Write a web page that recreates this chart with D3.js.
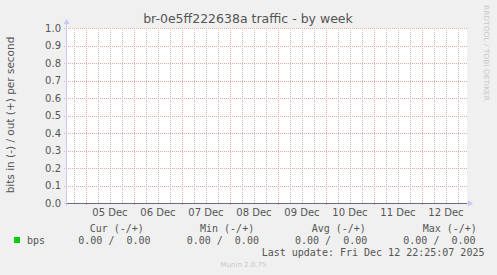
<!DOCTYPE html>
<html>
<head>
<meta charset="utf-8">
<script src="https://cdn.jsdelivr.net/npm/d3@7"></script>
<style>
  body { margin: 0; background: #f0f0f0; }
  svg { display: block; }
</style>
</head>
<body>
<svg id="chart" width="497" height="275"></svg>
<script>
// values
const sampleTimes = ["2025-12-04T14:30:00Z", "2025-12-12T22:30:00Z"];
const bpsIn = [0, 0];
const bpsOut = [0, 0];
const yTicks = [0, 0.1, 0.2, 0.3, 0.4, 0.5, 0.6, 0.7, 0.8, 0.9, 1.0];
const dayLabels = ["05 Dec", "06 Dec", "07 Dec", "08 Dec", "09 Dec", "10 Dec", "11 Dec", "12 Dec"];
const statNames = ["Cur (-/+)", "Min (-/+)", "Avg (-/+)", "Max (-/+)"];
const statIn = [0, 0, 0, 0];
const statOut = [0, 0, 0, 0];
const lastUpdate = "Last update: Fri Dec 12 22:25:07 2025";

const svg = d3.select("#chart");
const pLeft = 67, pRight = 467, pTop = 28, pBottom = 203;
const txt = "#555";

const times = sampleTimes.map(d => new Date(d));
const x = d3.scaleUtc().domain(d3.extent(times)).range([pLeft, pRight]);
const y = d3.scaleLinear().domain([0, 1]).range([pBottom, pTop]);

// plot background
svg.append("rect")
    .attr("x", pLeft).attr("y", pTop)
    .attr("width", pRight - pLeft).attr("height", pBottom - pTop)
    .attr("fill", "#fff");

// minor grid, every 6 hours
const minor = d3.utcHour.range(x.domain()[0], x.domain()[1])
    .filter(d => d.getUTCHours() % 6 === 0 && d.getUTCHours() !== 0);
svg.append("g").selectAll("line")
    .data(minor).enter().append("line")
    .attr("x1", d => Math.round(x(d)) + 0.5).attr("x2", d => Math.round(x(d)) + 0.5)
    .attr("y1", pTop).attr("y2", pBottom)
    .attr("stroke", "#bcbcbc").attr("stroke-dasharray", "1,1");

// major grid, midnight
const days = d3.utcDay.range(x.domain()[0], x.domain()[1]);
svg.append("g").selectAll("line")
    .data(days).enter().append("line")
    .attr("x1", d => Math.round(x(d)) + 0.5).attr("x2", d => Math.round(x(d)) + 0.5)
    .attr("y1", pTop).attr("y2", pBottom + 3)
    .attr("stroke", "#e8a8a8").attr("stroke-dasharray", "1,1");

svg.append("g").selectAll("line")
    .data(yTicks.filter(d => d > 0)).enter().append("line")
    .attr("x1", pLeft - 3).attr("x2", pRight)
    .attr("y1", d => Math.round(y(d)) + 0.5).attr("y2", d => Math.round(y(d)) + 0.5)
    .attr("stroke", "#e8a8a8").attr("stroke-dasharray", "1,1");

// y tick labels
svg.append("g").selectAll("text")
    .data(yTicks).enter().append("text")
    .attr("x", 61).attr("y", d => y(d) + 3.5)
    .attr("text-anchor", "end")
    .attr("font-family", "DejaVu Sans").attr("font-size", 10)
    .attr("fill", txt)
    .text(d => d.toFixed(1));

// day labels at noon
svg.append("g").selectAll("text")
    .data(days).enter().append("text")
    .attr("x", d => x(d3.utcHour.offset(d, 12)))
    .attr("y", 215.5)
    .attr("text-anchor", "middle")
    .attr("font-family", "DejaVu Sans").attr("font-size", 10)
    .attr("fill", txt)
    .text((d, i) => dayLabels[i]);

// axes with arrows
svg.append("line")
    .attr("x1", pLeft - 0.5).attr("x2", pLeft - 0.5).attr("y1", pBottom + 3).attr("y2", pTop - 5)
    .attr("stroke", "#c8c8f0");
svg.append("path")
    .attr("d", `M${pLeft - 3.5},${pTop - 4} L${pLeft - 0.5},${pTop - 9} L${pLeft + 2.5},${pTop - 4} Z`)
    .attr("fill", "#c8c8f0");
svg.append("line")
    .attr("x1", pLeft - 3).attr("x2", pRight + 3).attr("y1", pBottom + 0.5).attr("y2", pBottom + 0.5)
    .attr("stroke", "#c8c8f0");
svg.append("path")
    .attr("d", `M${pRight + 1},${pBottom - 2.5} L${pRight + 6},${pBottom + 0.5} L${pRight + 1},${pBottom + 3.5} Z`)
    .attr("fill", "#c8c8f0");

// data (in plotted negative, out positive, both zero)
const line = d3.line().x(d => x(d.t)).y(d => Math.round(y(d.v)) + 0.5);
[bpsIn.map((v, i) => ({t: times[i], v: -v})), bpsOut.map((v, i) => ({t: times[i], v: v}))]
  .forEach(s => {
    svg.append("path").datum(s)
        .attr("d", line)
        .attr("fill", "none")
        .attr("stroke", "#6a6a80").attr("stroke-width", 1);
  });

// title
svg.append("text")
    .attr("x", 248).attr("y", 22.5)
    .attr("text-anchor", "middle")
    .attr("font-family", "DejaVu Sans").attr("font-size", 12.5)
    .attr("fill", txt)
    .text("br-0e5ff222638a traffic - by week");

// y axis title
svg.append("text")
    .attr("transform", "translate(14,115) rotate(-90)")
    .attr("text-anchor", "middle")
    .attr("font-family", "DejaVu Sans").attr("font-size", 10.5)
    .attr("fill", txt)
    .text("bits in (-) / out (+) per second");

// watermark
svg.append("text")
    .attr("transform", "translate(483.5,5) rotate(90)")
    .attr("font-family", "DejaVu Sans").attr("font-size", 7)
    .attr("textLength", 96).attr("lengthAdjust", "spacingAndGlyphs")
    .attr("fill", "#c8c8c8")
    .text("RRDTOOL / TOBI OETIKER");

// legend
const mono = "DejaVu Sans Mono";
svg.append("rect")
    .attr("x", 14).attr("y", 237).attr("width", 6).attr("height", 6)
    .attr("fill", "#00cc00");
svg.append("text")
    .attr("x", 27).attr("y", 243.5)
    .attr("font-family", mono).attr("font-size", 10).attr("fill", txt)
    .text("bps");

const headX = [89.7, 200, 311.7, 422.7];
const valX = [78.3, 186.7, 295, 403.3];
svg.append("g").selectAll("text")
    .data(statNames).enter().append("text")
    .attr("x", (d, i) => headX[i]).attr("y", 231.5)
    .attr("font-family", mono).attr("font-size", 10).attr("fill", txt)
    .text(d => d);
svg.append("g").selectAll("text")
    .data(statIn).enter().append("text")
    .attr("x", (d, i) => valX[i]).attr("y", 243.5)
    .attr("font-family", mono).attr("font-size", 10).attr("fill", txt)
    .style("white-space", "pre")
    .text((d, i) => d.toFixed(2) + " /  " + statOut[i].toFixed(2));

svg.append("text")
    .attr("x", 261.7).attr("y", 255.5)
    .attr("font-family", mono).attr("font-size", 10).attr("fill", txt)
    .text(lastUpdate);

svg.append("text")
    .attr("x", 243.5).attr("y", 267)
    .attr("text-anchor", "middle")
    .attr("font-family", "DejaVu Sans").attr("font-size", 7)
    .attr("fill", "#c8c8c8")
    .text("Munin 2.0.75");
</script>
</body>
</html>
